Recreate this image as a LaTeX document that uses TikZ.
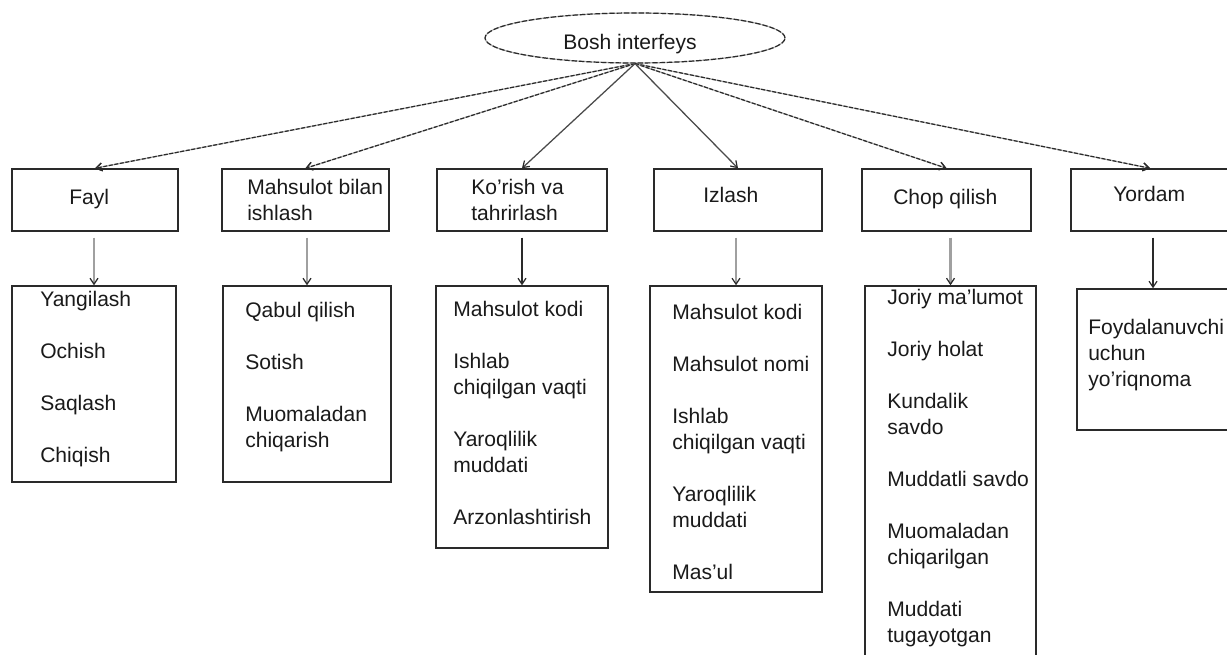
\documentclass[tikz,border=0pt]{standalone}
\usepackage{fontspec}
\setmainfont{Liberation Sans}
\usetikzlibrary{arrows.meta,shapes.geometric,fit}
\definecolor{linec}{HTML}{2A2A2A}
\definecolor{txtc}{HTML}{1A1A1A}
\definecolor{greyc}{HTML}{A0A0A0}
\definecolor{lightc}{HTML}{B0B0B0}
\newcommand\MyLines[1]{\begin{tabular}[t]{@{}l@{}}#1\end{tabular}}
\begin{document}
\begin{tikzpicture}[x=0.75pt,y=-0.75pt,
  box/.style={draw=linec, line width=1.1pt, rectangle, inner sep=0pt},
  txt/.style={anchor=base west, inner sep=0pt, text=txtc,
    font=\fontsize{15.8pt}{19.5pt}\selectfont},
  tip/.style={-{Straight Barb[length=4.5pt,width=6pt,color=linec,line width=0.9pt]}},
  darrow/.style={tip, lightc, line width=0.9pt,
    postaction={draw=linec, line width=0.9pt, dash pattern=on 3pt off 1.2pt}},
  sarrow/.style={tip, draw=linec!85, line width=0.95pt},
  garrow/.style={tip, draw=greyc, line width=1.6pt, shorten <=4.5pt},
  karrow/.style={tip, draw=linec, line width=1.05pt, shorten <=4.5pt}
]
\useasboundingbox (0,0) rectangle (1227,655);
\fill[white] (0,0) rectangle (1227,655);

% root
\node[ellipse, draw=lightc, line width=0.9pt, inner sep=0pt,
      minimum width=225pt, minimum height=37.5pt,
      postaction={draw=linec, line width=0.9pt, dash pattern=on 4pt off 1.5pt}]
      (root) at (635,38) {};
\node[txt, anchor=base] (rootlbl) at (630,50) {Bosh interfeys};

% top boxes
\node[box, fit={(12,169) (178,231)}] (fayl) {};
\node[box, fit={(222,169) (389,231)}] (mah) {};
\node[box, fit={(437,169) (607,231)}] (kor) {};
\node[box, fit={(654,169) (822,231)}] (izl) {};
\node[box, fit={(862,169) (1031,231)}] (chop) {};
\node[box, fit={(1071,169) (1229,231)}] (yor) {};

\node[txt] (fayltx) at (69,205) {Fayl};
\node[txt] (mahtx) at (247,195) {\MyLines{Mahsulot bilan\\ishlash}};
\node[txt] (kortx) at (471,195) {\MyLines{Ko'rish va\\tahrirlash}};
\node[txt] (izltx) at (703,203) {Izlash};
\node[txt] (choptx) at (893,205) {Chop qilish};
\node[txt] (yortx) at (1113,202) {Yordam};

% bottom boxes
\node[box, fit={(12,286) (176,482)}] (fayll) {};
\node[box, fit={(223,286) (391,482)}] (mahl) {};
\node[box, fit={(436,286) (608,548)}] (korl) {};
\node[box, fit={(650,286) (822,592)}] (izll) {};
\node[box, fit={(865,286) (1036,670)}] (chopl) {};
\node[box, fit={(1077,289) (1229,430)}] (yorl) {};

\node[txt] (fayllt) at (40,307) {\MyLines{Yangilash\\[19.5pt]Ochish\\[19.5pt]Saqlash\\[19.5pt]Chiqish}};
\node[txt] (mahlt) at (245,318) {\MyLines{Qabul qilish\\[19.5pt]Sotish\\[19.5pt]Muomaladan\\chiqarish}};
\node[txt] (korlt) at (453,317) {\MyLines{Mahsulot kodi\\[19.5pt]Ishlab\\chiqilgan vaqti\\[19.5pt]Yaroqlilik\\muddati\\[19.5pt]Arzonlashtirish}};
\node[txt] (izllt) at (672,320) {\MyLines{Mahsulot kodi\\[19.5pt]Mahsulot nomi\\[19.5pt]Ishlab\\chiqilgan vaqti\\[19.5pt]Yaroqlilik\\muddati\\[19.5pt]Mas'ul}};
\node[txt] (choplt) at (887,305) {\MyLines{Joriy ma'lumot\\[19.5pt]Joriy holat\\[19.5pt]Kundalik\\savdo\\[19.5pt]Muddatli savdo\\[19.5pt]Muomaladan\\chiqarilgan\\[19.5pt]Muddati\\tugayotgan}};
\node[txt] (yorlt) at (1088,335) {\MyLines{Foydalanuvchi\\uchun\\yo'riqnoma}};

% connectors from root
\draw[darrow] (root.south) -- (fayl.north);
\draw[darrow] (root.south) -- (mah.north);
\draw[sarrow] (root.south) -- (kor.north);
\draw[sarrow] (root.south) -- (izl.north);
\draw[darrow] (root.south) -- (chop.north);
\draw[darrow] (root.south) -- (yor.north);

% vertical connectors
\draw[garrow] (fayl.south -| fayll.north) -- (fayll.north);
\draw[garrow] (mah.south -| mahl.north) -- (mahl.north);
\draw[karrow] (kor.south -| korl.north) -- (korl.north);
\draw[garrow] (izl.south -| izll.north) -- (izll.north);
\draw[garrow] (chop.south -| chopl.north) -- (chopl.north);
\draw[karrow] (yor.south -| yorl.north) -- (yorl.north);
\end{tikzpicture}
\end{document}
